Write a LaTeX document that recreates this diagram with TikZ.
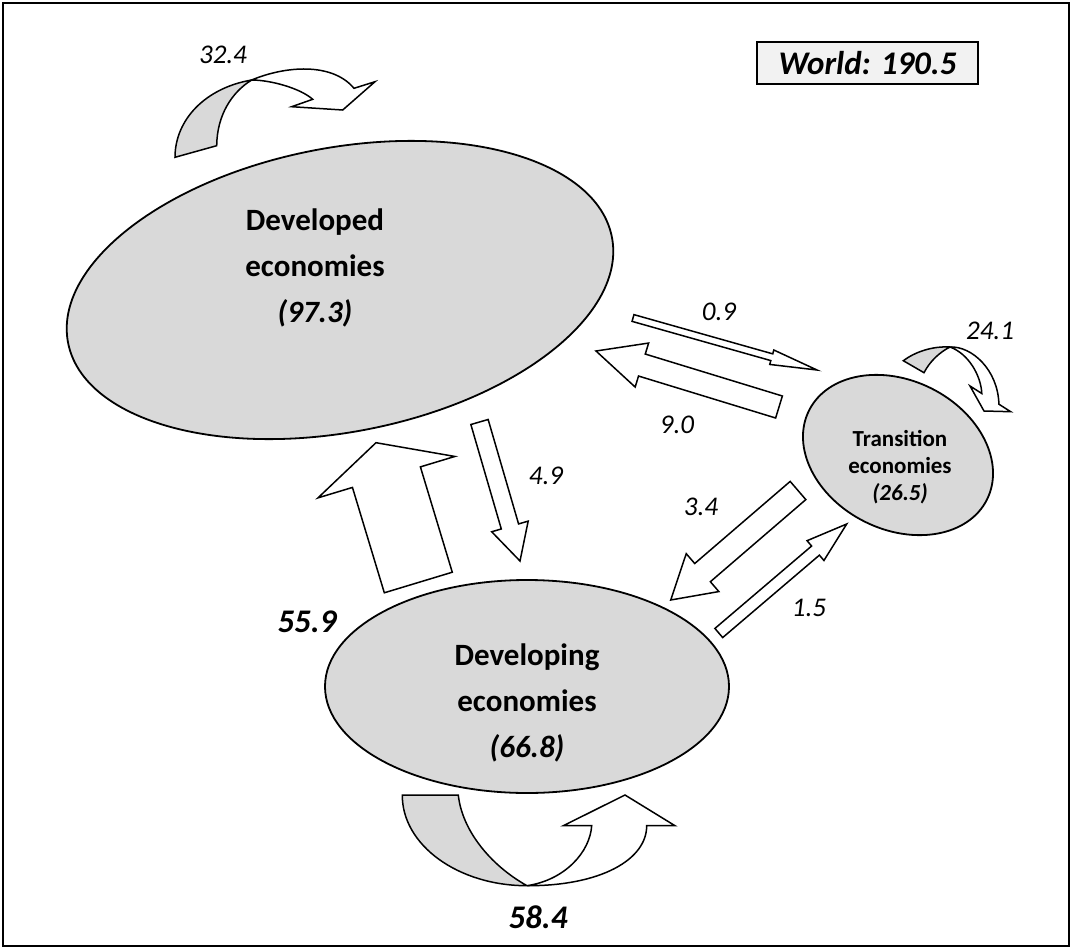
\documentclass[tikz,border=0pt]{standalone}
\usepackage{fontspec}
\setmainfont{Carlito}
\usetikzlibrary{shapes.geometric,calc}
\definecolor{shade}{HTML}{D9D9D9}
\definecolor{boxfill}{HTML}{F2F2F2}
\newcommand{\blockarr}[5]{%
  \path ($(#2)!#5!(#1)$) coordinate (hb);
  \draw[blockarrow] ($(#1)!#3!90:(#2)$) -- ($(hb)!#3!90:(#2)$) -- ($(hb)!#4!90:(#2)$) -- (#2)
    -- ($(hb)!#4!-90:(#2)$) -- ($(hb)!#3!-90:(#2)$) -- ($(#1)!#3!-90:(#2)$) -- cycle;
}
\begin{document}
\begin{tikzpicture}[x=1pt,y=-1pt,
  region/.style={ellipse, draw, fill=shade, line width=1.8pt, inner sep=0pt},
  blockarrow/.style={draw, fill=white, line width=1.5pt, line join=miter},
  backside/.style={draw, fill=shade, line width=1.5pt},
  flow/.style={font=\fontsize{27}{32}\selectfont\itshape},
  bigflow/.style={font=\fontsize{33}{39}\selectfont\bfseries\itshape},
  title/.style={font=\fontsize{31}{46}\selectfont\bfseries, align=center},
  smalltitle/.style={font=\fontsize{23}{27}\selectfont\bfseries, align=center}]
\useasboundingbox (0,0) rectangle (1072,948);
\node[draw, line width=2.2pt, minimum width=1066pt, minimum height=943pt, inner sep=0pt] (frame) at (536,474.5) {};

% regions
\node[region, minimum width=554pt, minimum height=284pt, rotate=11] (dev) at (340,290) {};
\node[region, minimum width=404pt, minimum height=213pt] (dvg) at (527,686.5) {};
\node[region, minimum width=199pt, minimum height=149pt, rotate=-26.6] (trn) at (898,455) {};

\node[title] (devT) at (315,268) {Developed\\economies\\\textit{(97.3)}};
\node[title] (dvgT) at (527,703) {Developing\\economies\\\textit{(66.8)}};
\node[smalltitle] (trnT) at (900,467) {Transition\\economies\\\textit{(26.5)}};

% world box
\node[draw, fill=boxfill, line width=1.5pt, minimum width=221pt, minimum height=42pt,
  font=\fontsize{33}{39}\selectfont\bfseries\itshape] (world) at (867.5,63) {World: 190.5};

% straight flows
\coordinate (t09) at (633,318);   \coordinate (h09) at (817,370);
\coordinate (t90) at (779,407);   \coordinate (h90) at (596,351);
\coordinate (t49) at (479.5,422); \coordinate (h49) at (520,561);
\coordinate (t559) at (418.3,582.5); \coordinate (h559) at (376,442.7);
\coordinate (t34) at (798,490.5); \coordinate (h34) at (670.7,600);
\coordinate (t15) at (718.8,633); \coordinate (h15) at (846.7,524);
\blockarr{t09}{h09}{3.5pt}{7.5pt}{47pt}
\blockarr{t90}{h90}{11.5pt}{23pt}{48pt}
\blockarr{t49}{h49}{9pt}{19pt}{36pt}
\blockarr{t559}{h559}{35.5pt}{71.5pt}{36pt}
\blockarr{t34}{h34}{12pt}{25pt}{42pt}
\blockarr{t15}{h15}{6pt}{13pt}{41pt}

% loop 32.4
\draw[backside] (175,157.3) .. controls (175,120) and (205,88) .. (251.7,80)
  .. controls (232,92) and (217,115) .. (216.7,145.7) -- cycle;
\draw[blockarrow] (251.7,80) .. controls (285,66) and (332,62) .. (354,88.3) -- (375,81.7)
  -- (342.7,110) -- (291.7,106.7) -- (312.7,99.3) .. controls (300,88) and (270,80) .. (251.7,80) -- cycle;

% loop 24.1
\draw[backside] (903.3,360.7) .. controls (915,352) and (932,346) .. (950,347)
  .. controls (940,352) and (930,361) .. (924,372.7) -- cycle;
\draw[blockarrow] (950,347) .. controls (972,346) and (998,370) .. (998.9,404.2) -- (1010.7,411.7)
  -- (984,411) -- (970,386) -- (981.8,393.5) .. controls (981,376) and (969,354) .. (950,347) -- cycle;

% loop 58.4
\draw[backside] (402.3,795) .. controls (402,845) and (458,885.7) .. (527,885.7)
  .. controls (490,865) and (462,830) .. (458.3,795) -- cycle;
\draw[blockarrow] (527,885.7) .. controls (600,886) and (646.7,860) .. (646.7,825.7) -- (675,825.7)
  -- (625,795) -- (563.3,825.7) -- (591.7,825.7) .. controls (590,852) and (565,880) .. (527,885.7) -- cycle;

% labels
\node[flow] (l324) at (223,55) {32.4};
\node[flow] (l241) at (990,331) {24.1};
\node[flow] (l09) at (719,312) {0.9};
\node[flow] (l90) at (677,425) {9.0};
\node[flow] (l49) at (546,476) {4.9};
\node[flow] (l34) at (701,507) {3.4};
\node[flow] (l15) at (809,608) {1.5};
\node[bigflow] (l559) at (307,622) {55.9};
\node[bigflow] (l584) at (538,917) {58.4};
\end{tikzpicture}
\end{document}
